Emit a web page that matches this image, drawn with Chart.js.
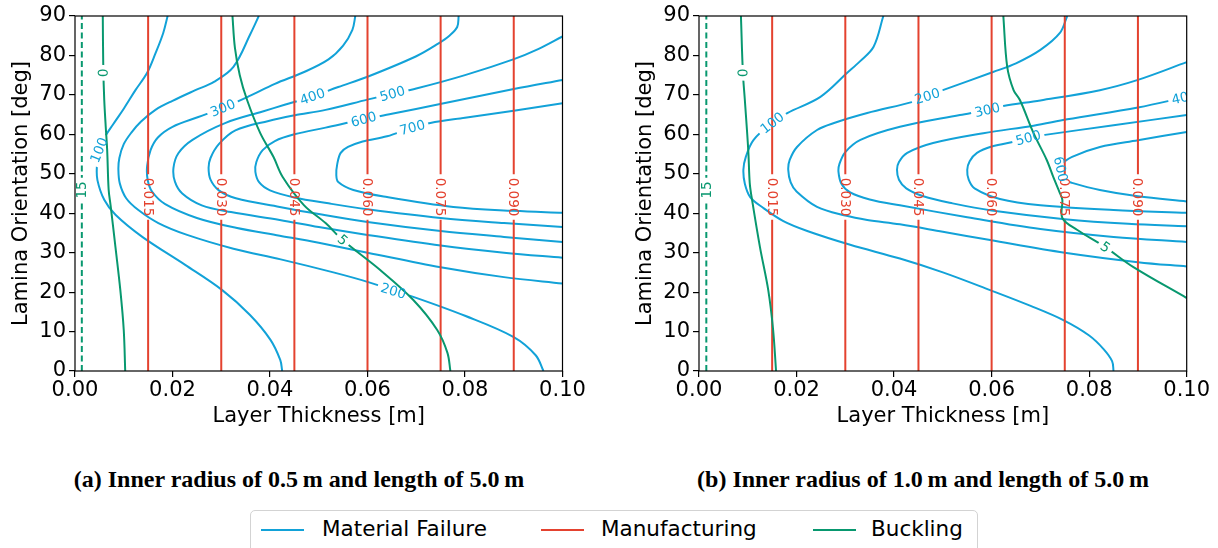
<!DOCTYPE html>
<html>
<head>
<meta charset="utf-8">
<script src="https://cdn.jsdelivr.net/npm/chart.js@4.4.0/dist/chart.umd.min.js"></script>
<style>
    body { margin: 0; width: 1218px; height: 548px; background: #fff; position: relative; overflow: hidden; font-family: "DejaVu Sans", sans-serif; }
    .panel { position: absolute; top: 0; height: 440px; }
    #panelA { left: 0; width: 600px; }
    #panelB { left: 624px; width: 594px; }
    .caption { position: absolute; top: 466px; font: bold 24px "Liberation Serif", serif; white-space: nowrap; transform: translateX(-50%); color: #000; }
    .legend { position: absolute; left: 250px; top: 510px; width: 728px; height: 60px; border: 1px solid #d3d3d3; border-radius: 5px; box-sizing: border-box; }
    .sw { position: absolute; top: 18px; height: 2px; width: 43px; }
    .lt { position: absolute; top: 5px; font-size: 21.5px; line-height: 26px; color: #000; white-space: nowrap; }
</style>
</head>
<body>
<div class="panel" id="panelA"><canvas id="chartA" width="600" height="440"></canvas></div>
<div class="panel" id="panelB"><canvas id="chartB" width="594" height="440"></canvas></div>
<div class="caption" style="left:299px">(a) Inner radius of 0.5&thinsp;m and length of 5.0&thinsp;m</div>
<div class="caption" style="left:923px">(b) Inner radius of 1.0&thinsp;m and length of 5.0&thinsp;m</div>
<div class="legend">
    <div class="sw" style="left:10px;background:#12a2d8"></div>
    <div class="lt" style="left:71px">Material Failure</div>
    <div class="sw" style="left:290px;background:#e4422f"></div>
    <div class="lt" style="left:350px">Manufacturing</div>
    <div class="sw" style="left:562px;background:#08986f"></div>
    <div class="lt" style="left:620px">Buckling</div>
</div>
<script>
// Axis ticks
const xTicks = [0, 0.02, 0.04, 0.06, 0.08, 0.10];
const yTicks = [0, 10, 20, 30, 40, 50, 60, 70, 80, 90];

// Manufacturing limits (vertical lines), same in both panels
const manufLevels = [0.015, 0.030, 0.045, 0.060, 0.075, 0.090];
const manufLabelAt = 44.1;

// Panel (a): material failure contours [thickness m, orientation deg]
const aMat100 = [[0.0190,90],[0.0181,85.7],[0.0165,80.5],[0.0148,75.6],[0.0124,71.2],[0.0100,66.5],[0.0078,62.5],[0.0062,59.5],[0.0050,56],[0.0045,52],[0.0046,48.4],[0.0060,43.4],[0.0083,39.6],[0.0138,34],[0.0226,26.9],[0.0302,20.5],[0.0359,14.2],[0.0401,7.9],[0.0421,2.8],[0.0425,0]];
const aMat200 = [[0.0377,90],[0.0360,85.5],[0.0325,77.1],[0.0285,73.3],[0.0247,71.2],[0.0200,68.5],[0.0165,66.2],[0.0135,63.2],[0.0116,60.5],[0.0100,57.5],[0.0091,54],[0.0089,51],[0.0092,47.5],[0.0105,43.8],[0.0130,40.8],[0.0171,37.5],[0.0230,34.5],[0.0325,31.0],[0.0422,28.3],[0.0530,25.0],[0.0600,22.6],[0.0694,18.8],[0.0800,14.0],[0.0900,8.6],[0.0945,4],[0.0961,0]];
const aMat300 = [[0.0575,90],[0.0569,86.5],[0.0550,82.5],[0.0520,79],[0.0470,75.8],[0.0410,72.8],[0.0356,69.6],[0.0303,66.7],[0.0253,64.4],[0.0200,61.9],[0.0170,59.2],[0.0155,56],[0.0148,52],[0.0149,48.5],[0.0158,45.5],[0.0185,42.3],[0.0250,38.8],[0.0330,36.3],[0.0420,34.3],[0.0500,32.5],[0.0600,30.0],[0.0750,26.3],[0.0880,23.8],[0.1000,22.2]];
const aMat400 = [[0.0787,90],[0.0784,87.2],[0.0768,85],[0.0745,83],[0.0700,79.8],[0.0600,74.6],[0.0540,72],[0.0487,69.6],[0.0430,67.5],[0.0385,65.8],[0.0309,62.9],[0.0241,58.6],[0.0212,55.2],[0.0202,51.5],[0.0205,48],[0.0220,45],[0.0260,42],[0.0320,40.3],[0.0420,38.3],[0.0500,36.5],[0.0600,34.5],[0.0750,31.8],[0.0880,30],[0.1000,28.7]];
const aMat500 = [[0.1000,84.8],[0.0950,81.6],[0.0899,79],[0.0800,75],[0.0700,71.6],[0.0651,70.3],[0.0600,68.8],[0.0514,66.2],[0.0450,64.8],[0.0397,63.4],[0.0329,61],[0.0295,57.5],[0.0278,54],[0.0274,51.5],[0.0278,48.5],[0.0295,45.8],[0.0330,43.8],[0.0420,41.6],[0.0500,39.8],[0.0600,37.8],[0.0750,35.5],[0.0880,34],[0.1000,32.7]];
const aMat600 = [[0.1000,73.8],[0.0900,71.5],[0.0749,67.7],[0.0650,65.2],[0.0592,63.8],[0.0514,61.7],[0.0450,60],[0.0410,58.3],[0.0385,56],[0.0372,53],[0.0370,50.5],[0.0378,47.8],[0.0400,45.8],[0.0450,44],[0.0520,42.5],[0.0600,41],[0.0750,38.8],[0.0880,37.5],[0.1000,36.5]];
const aMat700 = [[0.1000,67.9],[0.0900,66],[0.0800,64.2],[0.0729,62.9],[0.0692,61.7],[0.0640,59.5],[0.0590,58.2],[0.0560,56.8],[0.0545,55.3],[0.0538,52.5],[0.0536,49.7],[0.0540,47.9],[0.0571,45.9],[0.0640,44.1],[0.0776,41.6],[0.0900,40.6],[0.1000,40.1]];

// Panel (a): buckling contours
const aBuck0 = [[0.0057,90],[0.0058,77],[0.0060,68.7],[0.0063,62],[0.0066,56],[0.0069,46],[0.0073,42],[0.0083,31.4],[0.0093,20.5],[0.0100,10.4],[0.0103,0]];
const aBuck5 = [[0.0323,90],[0.0328,82],[0.0338,75],[0.0353,68.7],[0.0380,60.3],[0.0407,54.3],[0.0426,49.2],[0.0470,42],[0.0514,37.5],[0.0549,33.2],[0.0626,25.6],[0.0694,18],[0.0743,10.4],[0.0764,4.6],[0.0770,0]];
const aBuck15 = [[0.0014,0],[0.0014,90]];

// Panel (b): material failure contours
const bMat100 = [[0.0378,90],[0.0358,82.2],[0.0330,78.5],[0.0304,75.6],[0.0249,69.5],[0.0181,65.4],[0.0150,62.9],[0.0112,58.6],[0.0096,54.3],[0.0091,51],[0.0094,47.5],[0.0105,44.1],[0.0130,41.5],[0.0173,38],[0.0222,35.5],[0.0310,32],[0.0412,28.5],[0.0500,25],[0.0597,20.5],[0.0680,16.5],[0.0747,12.9],[0.0800,9],[0.0830,5.5],[0.0847,2.5],[0.0850,0]];
const bMat200 = [[0.0755,90],[0.0740,85.7],[0.0700,81.4],[0.0650,78],[0.0603,75.8],[0.0500,71.2],[0.0468,69.7],[0.0440,68.3],[0.0345,65.4],[0.0280,63],[0.0242,61.1],[0.0201,56.8],[0.0186,53.5],[0.0183,51],[0.0188,47.8],[0.0200,45.5],[0.0242,41.6],[0.0300,39.4],[0.0345,38.3],[0.0412,37.2],[0.0500,35.3],[0.0597,33.2],[0.0750,30.0],[0.0900,27.6],[0.1000,26.5]];
const bMat300 = [[0.1000,78.3],[0.0900,73.8],[0.0822,71.2],[0.0700,68.6],[0.0624,67.2],[0.0591,66.2],[0.0535,64.9],[0.0412,61.9],[0.0331,58.6],[0.0300,55.5],[0.0288,52.5],[0.0286,50.5],[0.0292,47.5],[0.0310,45.3],[0.0350,43.5],[0.0412,42],[0.0550,39],[0.0700,36],[0.0850,34],[0.1000,32.7]];
const bMat400 = [[0.1000,69.5],[0.0900,66.8],[0.0755,63.8],[0.0686,62.2],[0.0583,60.3],[0.0480,57.8],[0.0427,55.3],[0.0410,53],[0.0406,51],[0.0410,48.5],[0.0425,46.3],[0.0460,44.3],[0.0520,42.5],[0.0600,40.7],[0.0750,38.5],[0.0880,37.3],[0.1000,36.7]];
const bMat500 = [[0.1000,64.9],[0.0850,62.3],[0.0706,59.8],[0.0675,59.1],[0.0652,58.3],[0.0600,56.9],[0.0570,55.3],[0.0555,53.2],[0.0550,51],[0.0553,48.5],[0.0565,46.3],[0.0617,43.6],[0.0700,42],[0.0850,40.8],[0.1000,40.1]];
const bMat600 = [[0.1000,60.6],[0.0900,58.5],[0.0822,56.8],[0.0765,54.3],[0.0745,52.5],[0.0742,50.5],[0.0750,48.5],[0.0765,47.7],[0.0822,45.9],[0.0900,44.3],[0.1000,43.0]];

// Panel (b): buckling contours
const bBuck0 = [[0.0086,90],[0.0090,75.6],[0.0094,68.7],[0.0101,56],[0.0104,47.7],[0.0108,44],[0.0125,31.4],[0.0142,20.5],[0.0152,10.4],[0.0158,0]];
const bBuck5 = [[0.0624,90],[0.0632,77.1],[0.0645,71.2],[0.0658,68.7],[0.0686,60.3],[0.0713,53.5],[0.0727,49],[0.0740,45.1],[0.0745,43.4],[0.0745,38.8],[0.0775,35.8],[0.0833,31.4],[0.0890,26.4],[0.1000,18.5]];
const bBuck15 = [[0.0015,0],[0.0015,90]];

// Inline contour labels: [text, thickness, orientation, angle deg]
const aMatLabels = [['100',0.0049,56,-68],['200',0.0653,20.3,17],['300',0.0303,66.7,-22],['400',0.0487,69.6,-19],['500',0.0651,70.3,-16],['600',0.0592,63.8,-15],['700',0.0692,61.7,-15]];
const aBuckLabels = [['0',0.0058,75.6,-88],['5',0.0549,33.2,41],['15',0.0014,45.9,-90]];
const bMatLabels = [['100',0.0150,62.9,-38],['200',0.0468,69.7,-17],['300',0.0591,66.2,-13],['400',0.0995,69.4,-13],['500',0.0675,59.1,-15],['600',0.0742,51.2,78]];
const bBuckLabels = [['0',0.0090,75.6,-88],['5',0.0833,31.4,35],['15',0.0015,45.9,-90]];

const BLUE = '#12a2d8';
const RED = '#e4422f';
const GREEN = '#08986f';
const labelFont = '13.5px "DejaVu Sans"';

// Build one contour dataset
function contour(points, color, label, extra) {
    return Object.assign({
        data: points.map(p => ({ x: p[0], y: p[1] })),
        borderColor: color,
        borderWidth: 2,
        pointRadius: 0,
        tension: 0.35,
        fill: false,
        inline: label ? [{ text: label[0], x: label[1], y: label[2], rot: label[3] }] : []
    }, extra || {});
}

function buildDatasets(mats, matLabels, bucks, buckLabels) {
    const sets = [];
    // buckling first so it is drawn on top
    bucks.forEach((pts, i) => {
        const dashed = i === bucks.length - 1;
        sets.push(contour(pts, GREEN, buckLabels[i], dashed ? { borderDash: [6, 3.5], tension: 0 } : {}));
    });
    manufLevels.forEach(v => {
        sets.push(contour([[v, 0], [v, 90]], RED, [v.toFixed(3), v, manufLabelAt, 90], { tension: 0 }));
    });
    mats.forEach((pts, i) => sets.push(contour(pts, BLUE, matLabels[i])));
    return sets;
}

// Rotated box around a label, used to cut a gap in its own line
function labelCorners(ctx, l, chart) {
    const px = chart.scales.x.getPixelForValue(l.x);
    const py = chart.scales.y.getPixelForValue(l.y);
    const w = ctx.measureText(l.text).width + 7, h = 12;
    const a = l.rot * Math.PI / 180, c = Math.cos(a), s = Math.sin(a);
    return [[-w / 2, -h / 2], [w / 2, -h / 2], [w / 2, h / 2], [-w / 2, h / 2]]
        .map(([u, v]) => [px + u * c - v * s, py + u * s + v * c]);
}

const inlineLabels = {
    id: 'inlineLabels',
    beforeDatasetDraw(chart, args) {
        const ds = chart.data.datasets[args.index];
        const ctx = chart.ctx;
        ctx.save();
        if (!ds.inline.length) return;
        ctx.font = labelFont;
        ctx.beginPath();
        ctx.rect(0, 0, chart.width, chart.height);
        ds.inline.forEach(l => {
            const pts = labelCorners(ctx, l, chart);
            ctx.moveTo(pts[0][0], pts[0][1]);
            pts.slice(1).forEach(p => ctx.lineTo(p[0], p[1]));
            ctx.closePath();
        });
        ctx.clip('evenodd');
    },
    afterDatasetDraw(chart) {
        chart.ctx.restore();
    },
    afterDatasetsDraw(chart) {
        const ctx = chart.ctx, a = chart.chartArea;
        ctx.save();
        ctx.beginPath();
        ctx.rect(a.left, a.top, a.right - a.left, a.bottom - a.top);
        ctx.clip();
        ctx.font = labelFont;
        ctx.textAlign = 'center';
        ctx.textBaseline = 'middle';
        chart.data.datasets.forEach(ds => {
            ds.inline.forEach(l => {
                ctx.save();
                ctx.translate(chart.scales.x.getPixelForValue(l.x), chart.scales.y.getPixelForValue(l.y));
                ctx.rotate(l.rot * Math.PI / 180);
                ctx.fillStyle = ds.borderColor;
                ctx.fillText(l.text, 0, 1);
                ctx.restore();
            });
        });
        ctx.restore();
        // axes frame
        ctx.save();
        ctx.strokeStyle = '#000';
        ctx.lineWidth = 1.2;
        ctx.strokeRect(a.left, a.top, a.right - a.left, a.bottom - a.top);
        ctx.restore();
    }
};

function makeChart(id, datasets, padRight) {
    const tickFont = { family: 'DejaVu Sans', size: 21 };
    const grid = { drawOnChartArea: false, drawTicks: true, tickLength: 6, color: '#000', lineWidth: 1.2 };
    return new Chart(document.getElementById(id), {
        type: 'line',
        data: { datasets: datasets },
        plugins: [inlineLabels],
        options: {
            responsive: false,
            animation: false,
            events: [],
            layout: { padding: { top: 16, right: padRight, bottom: 0, left: 0 } },
            plugins: { legend: { display: false }, tooltip: { enabled: false } },
            scales: {
                x: {
                    type: 'linear',
                    min: xTicks[0],
                    max: xTicks[xTicks.length - 1],
                    afterBuildTicks: s => { s.ticks = xTicks.map(v => ({ value: v })); },
                    ticks: { font: tickFont, color: '#000', padding: 1, maxRotation: 0, callback: v => v.toFixed(2) },
                    grid: grid,
                    border: { display: false },
                    title: { display: true, text: 'Layer Thickness [m]', font: tickFont, color: '#000', padding: { top: 0, bottom: 11 } },
                    afterFit: s => { s.height = 69; }
                },
                y: {
                    type: 'linear',
                    min: yTicks[0],
                    max: yTicks[yTicks.length - 1],
                    afterBuildTicks: s => { s.ticks = yTicks.map(v => ({ value: v })); },
                    ticks: { font: tickFont, color: '#000', padding: 3 },
                    grid: grid,
                    border: { display: false },
                    title: { display: true, text: 'Lamina Orientation [deg]', font: tickFont, color: '#000', padding: { top: 9, bottom: 0 } },
                    afterFit: s => { s.width = 75; }
                }
            }
        }
    });
}

makeChart('chartA', buildDatasets(
    [aMat100, aMat200, aMat300, aMat400, aMat500, aMat600, aMat700], aMatLabels,
    [aBuck0, aBuck5, aBuck15], aBuckLabels), 37.5);
makeChart('chartB', buildDatasets(
    [bMat100, bMat200, bMat300, bMat400, bMat500, bMat600], bMatLabels,
    [bBuck0, bBuck5, bBuck15], bBuckLabels), 31.3);
</script>
</body>
</html>
